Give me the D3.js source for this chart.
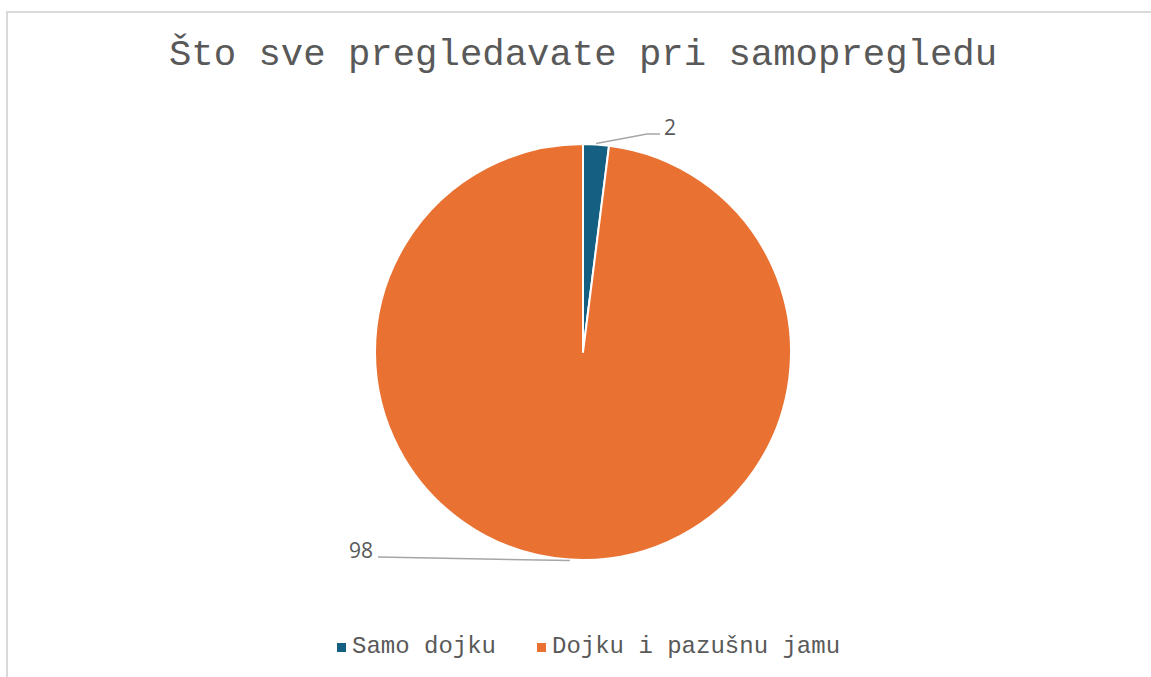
<!DOCTYPE html>
<html>
<head>
<meta charset="utf-8">
<script src="https://cdn.jsdelivr.net/npm/d3@7"></script>
<style>
  body { margin: 0; background: #fff; }
  svg { display: block; }
</style>
</head>
<body>
<div class="chart"></div>
<script>
const categories = ["Samo dojku", "Dojku i pazušnu jamu"];
const values = [2, 98];
const colors = ["#156082", "#E97132"];
const title = "Što sve pregledavate pri samopregledu";

const width = 1151;
const height = 677;
const cx = 583, cy = 352, radius = 208;

const svg = d3.select('.chart')
    .append('svg')
    .attr('width', width)
    .attr('height', height);

// chart frame
svg.append('rect')
    .attr('x', 7)
    .attr('y', 12)
    .attr('width', 1160)
    .attr('height', 700)
    .attr('fill', 'none')
    .attr('stroke', '#d9d9d9')
    .attr('stroke-width', 2);

svg.append('text')
    .attr('x', cx)
    .attr('y', 65)
    .attr('text-anchor', 'middle')
    .attr('font-family', '"Liberation Mono", "Courier New", monospace')
    .attr('font-size', 37.3)
    .attr('fill', '#595959')
    .text(title);

const data = categories.map((c, i) => ({name: c, value: values[i], color: colors[i]}));

const pie = d3.pie().sort(null).value(d => d.value);
const arc = d3.arc().innerRadius(0).outerRadius(radius);
const arcs = pie(data);

const g = svg.append('g').attr('transform', `translate(${cx},${cy})`);

g.selectAll('path.slice')
    .data(arcs)
    .enter()
    .append('path')
    .attr('class', 'slice')
    .attr('d', arc)
    .attr('fill', d => d.data.color)
    .attr('stroke', '#fff')
    .attr('stroke-width', 2)
    .attr('stroke-linejoin', 'round');

// data labels with leader lines
const edge = d3.arc().innerRadius(radius + 1).outerRadius(radius + 1);
const labelPos = [
    {elbow: [64, -218], end: [77, -218], text: [81, -217], anchor: 'start'},
    {elbow: [-205, 205], end: [-205, 205], text: [-210, 206], anchor: 'end'}
];

arcs.forEach((d, i) => {
    const p = edge.centroid(d);
    const lp = labelPos[i];
    g.append('polyline')
        .attr('points', [p, lp.elbow, lp.end].map(q => q.join(',')).join(' '))
        .attr('fill', 'none')
        .attr('stroke', '#a6a6a6')
        .attr('stroke-width', 1.5);
    g.append('text')
        .attr('x', lp.text[0])
        .attr('y', lp.text[1])
        .attr('text-anchor', lp.anchor)
        .attr('font-family', '"Open Sans", "Noto Sans", sans-serif')
        .attr('font-size', 21)
        .attr('fill', '#595959')
        .text(d.data.value);
});

// legend
const legendX = [337, 537];
const legend = svg.selectAll('g.legend')
    .data(data)
    .enter()
    .append('g')
    .attr('class', 'legend')
    .attr('transform', (d, i) => `translate(${legendX[i]},643)`);

legend.append('rect')
    .attr('width', 9)
    .attr('height', 9)
    .attr('fill', d => d.color);

legend.append('text')
    .attr('x', 15)
    .attr('y', 10)
    .attr('font-family', '"Liberation Mono", "Courier New", monospace')
    .attr('font-size', 24)
    .attr('fill', '#595959')
    .text(d => d.name);
</script>
</body>
</html>
